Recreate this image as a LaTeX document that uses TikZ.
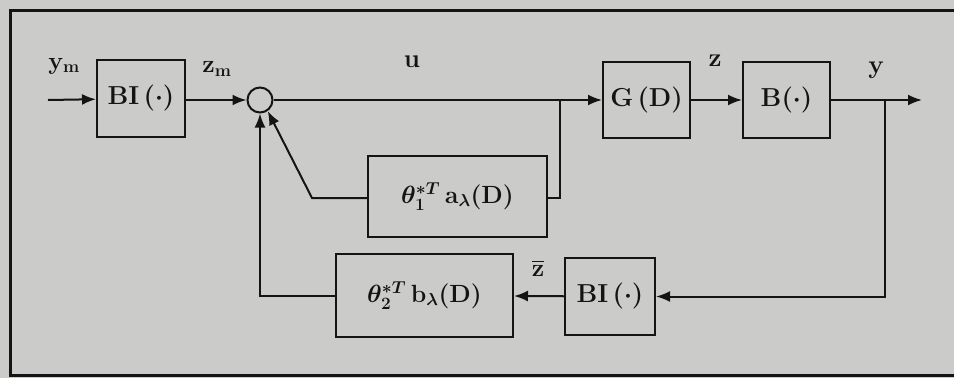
\documentclass[tikz,border=0pt]{standalone}
\usepackage{amsmath,bm}
\usetikzlibrary{arrows.meta}
\definecolor{paper}{RGB}{203,204,202}
\definecolor{ink}{RGB}{20,20,20}
\begin{document}
\begin{tikzpicture}[x=1pt,y=-1pt,
  every node/.style={font=\fontsize{26}{30}\selectfont\bfseries\boldmath, text=ink},
  blk/.style={draw=ink, line width=2pt, inner sep=0pt, minimum width=#1},
  blk/.default=88pt,
  wire/.style={draw=ink, line width=2pt},
  arr/.style={wire, -{Latex[length=14pt,width=11pt]}},
  lbl/.style={inner sep=0pt}]
\fill[paper] (0,0) rectangle (954,378);
\useasboundingbox (0,0) rectangle (954,378);
% frame
\draw[ink, line width=3pt] (960,10) -- (10,10) -- (10,375) -- (960,375);
% blocks
\node[blk=88pt, minimum height=77pt] (bi1) at (141,98.5) {BI\,(\(\cdot\))};
\node[blk=87pt, minimum height=76pt] (g) at (646.5,100) {G\,(D)};
\node[blk=87pt, minimum height=76pt] (b) at (786.5,100) {B(\(\cdot\))};
\node[blk=179pt, minimum height=81pt] (t1) at (457.5,196.5) {$\theta_{1}^{*T}\,\mathbf{a}_{\lambda}(\mathbf{D})$};
\node[blk=177pt, minimum height=83pt] (t2) at (424.5,295.5) {$\theta_{2}^{*T}\,\mathbf{b}_{\lambda}(\mathbf{D})$};
\node[blk=90pt, minimum height=77pt] (bi2) at (610,296.5) {BI\,(\(\cdot\))};
\node[draw=ink, line width=2pt, circle, minimum size=25pt, inner sep=0pt] (sum) at (260,100) {};
% coordinates
\coordinate (in) at (48,100);
\coordinate (out) at (922,100);
\coordinate (br1) at (560,100);
\coordinate (br2) at (885,100);
% connections
\draw[arr] (in) -- (bi1);
\draw[arr] (bi1.east |- sum) -- (sum);
\draw[arr] (sum) -- (g);
\draw[arr] (g) -- (b);
\draw[arr] (b) -- (out);
\draw[wire] (t1.east |- 0,198) -- (560,198) -- (br1);
\draw[arr] (t1.west |- 0,198) -- (312,198) -- (sum.-55);
\draw[arr] (br2) -- (885,296.5) -- (bi2.east);
\draw[arr] (bi2) -- (t2);
\draw[arr] (t2.west) -- (sum.south |- t2.west) -- (sum.south);
% labels
\node[lbl] at (64,66) {$\mathbf{y}_{\mathbf{m}}$};
\node[lbl] at (217,69) {$\mathbf{z}_{\mathbf{m}}$};
\node[lbl] at (412,62) {u};
\node[lbl] at (715,61) {z};
\node[lbl] at (876,70) {y};
\node[lbl] at (538,268) {$\overline{\mathbf{z}}$};
\end{tikzpicture}
\end{document}
